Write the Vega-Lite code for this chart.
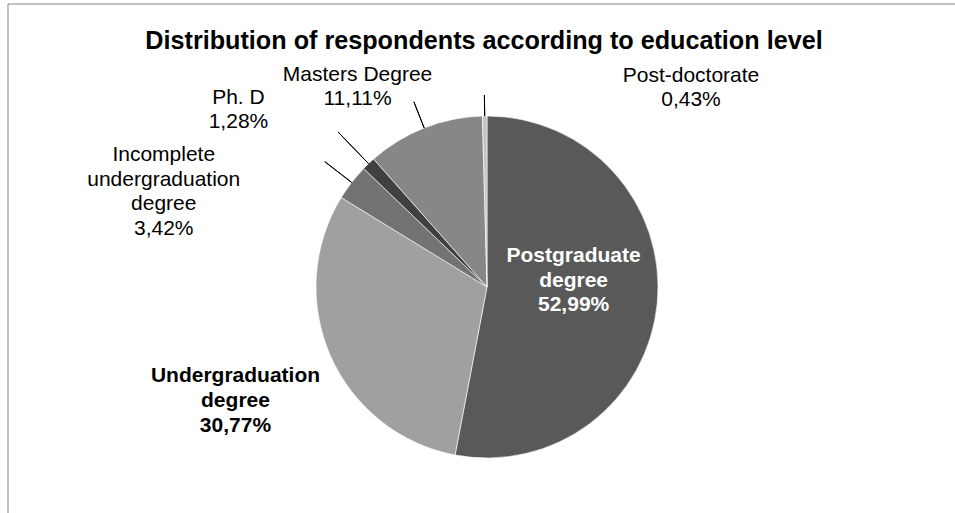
{
  "$schema": "https://vega.github.io/schema/vega-lite/v6.json",
  "width": 958,
  "height": 566,
  "autosize": {"type": "none"},
  "padding": {"left": 8, "top": 4, "right": 0, "bottom": 0},
  "background": "#ffffff",
  "config": {
    "view": {"stroke": null},
    "text": {"font": "Liberation Sans"}
  },
  "title": {
    "text": "Distribution of respondents according to education level",
    "font": "Liberation Sans",
    "fontSize": 25.2,
    "fontWeight": "bold",
    "color": "#000000",
    "anchor": "middle",
    "frame": "group",
    "baseline": "alphabetic",
    "offset": -70.6,
    "dx": -3,
    "dy": 25
  },
  "datasets": {
    "edu": [
      {"cat": "Postgraduate degree", "value": 52.99, "ord": 1, "label": "Postgraduate\ndegree\n52,99%"},
      {"cat": "Undergraduation degree", "value": 30.77, "ord": 2, "label": "Undergraduation\ndegree\n30,77%"},
      {"cat": "Incomplete undergraduation degree", "value": 3.42, "ord": 3, "label": "Incomplete\nundergraduation\ndegree\n3,42%"},
      {"cat": "Ph. D", "value": 1.28, "ord": 4, "label": "Ph. D\n1,28%"},
      {"cat": "Masters Degree", "value": 11.11, "ord": 5, "label": "Masters Degree\n11,11%"},
      {"cat": "Post-doctorate", "value": 0.43, "ord": 6, "label": "Post-doctorate\n0,43%"}
    ],
    "frame": [{"name": "frame"}]
  },
  "layer": [
    {
      "data": {"name": "frame"},
      "mark": {"type": "rect", "fill": "transparent", "stroke": "#868686", "strokeWidth": 1},
      "encoding": {}
    },
    {
      "data": {"name": "edu"},
      "layer": [
        {
          "mark": {"type": "arc", "radius": 171, "stroke": "#ffffff", "strokeWidth": 0.6},
          "encoding": {
            "theta": {"field": "value", "type": "quantitative", "stack": true},
            "order": {"field": "ord", "type": "quantitative"},
            "color": {
              "field": "cat",
              "type": "nominal",
              "scale": {
                "domain": ["Postgraduate degree", "Undergraduation degree", "Incomplete undergraduation degree", "Ph. D", "Masters Degree", "Post-doctorate"],
                "range": ["#595959", "#a0a0a0", "#737373", "#404040", "#878787", "#c4c4c4"]
              },
              "legend": null
            }
          }
        },
        {
          "mark": {"type": "arc", "radius": 205, "radius2": 171, "padAngle": 3.2, "fill": "transparent", "stroke": "#000000", "strokeWidth": 1},
          "encoding": {
            "theta": {"field": "value", "type": "quantitative", "stack": true},
            "order": {"field": "ord", "type": "quantitative"},
            "strokeOpacity": {"condition": {"test": "datum.cat === 'Incomplete undergraduation degree'", "value": 1}, "value": 0}
          }
        },
        {
          "mark": {"type": "arc", "radius": 215, "radius2": 171, "padAngle": 3.2, "fill": "transparent", "stroke": "#000000", "strokeWidth": 1},
          "encoding": {
            "theta": {"field": "value", "type": "quantitative", "stack": true},
            "order": {"field": "ord", "type": "quantitative"},
            "strokeOpacity": {"condition": {"test": "datum.cat === 'Ph. D'", "value": 1}, "value": 0}
          }
        },
        {
          "mark": {"type": "arc", "radius": 199, "radius2": 171, "padAngle": 3.2, "fill": "transparent", "stroke": "#000000", "strokeWidth": 1},
          "encoding": {
            "theta": {"field": "value", "type": "quantitative", "stack": true},
            "order": {"field": "ord", "type": "quantitative"},
            "strokeOpacity": {"condition": {"test": "datum.cat === 'Masters Degree'", "value": 1}, "value": 0}
          }
        },
        {
          "mark": {"type": "arc", "radius": 192, "radius2": 171, "padAngle": 3.2, "fill": "transparent", "stroke": "#000000", "strokeWidth": 1},
          "encoding": {
            "theta": {"field": "value", "type": "quantitative", "stack": true},
            "order": {"field": "ord", "type": "quantitative"},
            "strokeOpacity": {"condition": {"test": "datum.cat === 'Post-doctorate'", "value": 1}, "value": 0}
          }
        },
        {
          "mark": {"type": "text", "radius": 86, "dx": 1, "dy": -39.2, "align": "center", "baseline": "middle", "lineBreak": "\n", "lineHeight": 24.8, "fontSize": 21, "fontWeight": "bold", "fill": "#ffffff"},
          "encoding": {
            "theta": {"field": "value", "type": "quantitative", "stack": true},
            "order": {"field": "ord", "type": "quantitative"},
            "text": {"condition": {"test": "datum.cat === 'Postgraduate degree'", "field": "label"}, "value": ""}
          }
        },
        {
          "mark": {"type": "text", "radius": 275, "dx": 0, "dy": -22.5, "align": "center", "baseline": "middle", "lineBreak": "\n", "lineHeight": 25, "fontSize": 21, "fontWeight": "bold", "fill": "#000000"},
          "encoding": {
            "theta": {"field": "value", "type": "quantitative", "stack": true},
            "order": {"field": "ord", "type": "quantitative"},
            "text": {"condition": {"test": "datum.cat === 'Undergraduation degree'", "field": "label"}, "value": ""}
          }
        },
        {
          "mark": {"type": "text", "radius": 200, "dx": -165, "dy": -9.3, "align": "center", "baseline": "middle", "lineBreak": "\n", "lineHeight": 24.4, "fontSize": 21, "fill": "#000000"},
          "encoding": {
            "theta": {"field": "value", "type": "quantitative", "stack": true},
            "order": {"field": "ord", "type": "quantitative"},
            "text": {"condition": {"test": "datum.cat === 'Incomplete undergraduation degree'", "field": "label"}, "value": ""}
          }
        },
        {
          "mark": {"type": "text", "radius": 200, "dx": -110, "dy": -44.9, "align": "center", "baseline": "middle", "lineBreak": "\n", "lineHeight": 24.2, "fontSize": 21, "fill": "#000000"},
          "encoding": {
            "theta": {"field": "value", "type": "quantitative", "stack": true},
            "order": {"field": "ord", "type": "quantitative"},
            "text": {"condition": {"test": "datum.cat === 'Ph. D'", "field": "label"}, "value": ""}
          }
        },
        {
          "mark": {"type": "text", "radius": 200, "dx": -56, "dy": -26, "align": "center", "baseline": "middle", "lineBreak": "\n", "lineHeight": 24, "fontSize": 21, "fill": "#000000"},
          "encoding": {
            "theta": {"field": "value", "type": "quantitative", "stack": true},
            "order": {"field": "ord", "type": "quantitative"},
            "text": {"condition": {"test": "datum.cat === 'Masters Degree'", "field": "label"}, "value": ""}
          }
        },
        {
          "mark": {"type": "text", "radius": 200, "dx": 206.7, "dy": -10.8, "align": "center", "baseline": "middle", "lineBreak": "\n", "lineHeight": 24.2, "fontSize": 21, "fill": "#000000"},
          "encoding": {
            "theta": {"field": "value", "type": "quantitative", "stack": true},
            "order": {"field": "ord", "type": "quantitative"},
            "text": {"condition": {"test": "datum.cat === 'Post-doctorate'", "field": "label"}, "value": ""}
          }
        }
      ]
    }
  ]
}
